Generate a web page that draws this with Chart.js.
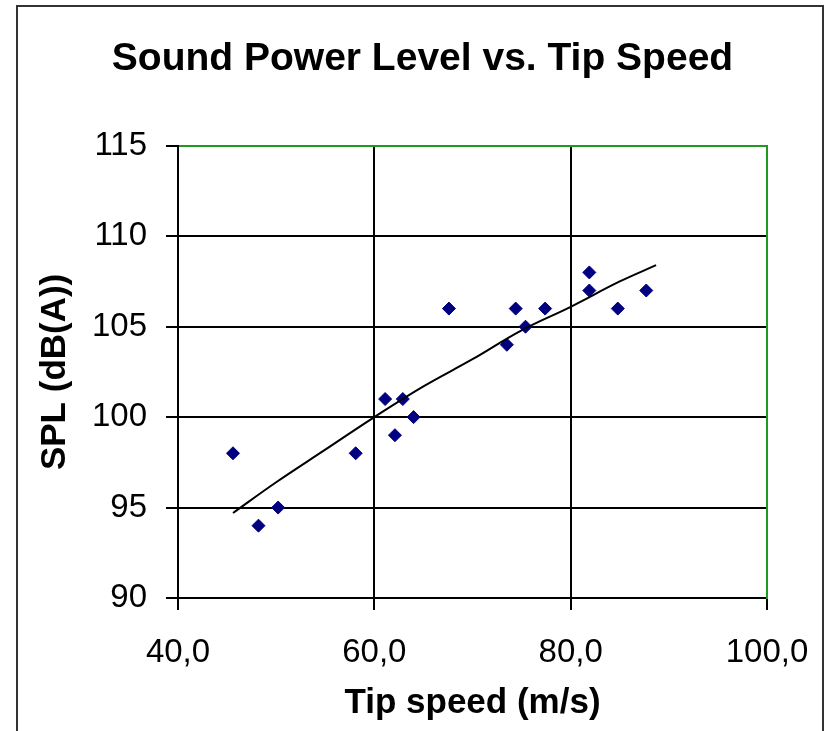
<!DOCTYPE html>
<html>
<head>
<meta charset="utf-8">
<script src="https://cdn.jsdelivr.net/npm/chart.js@4"></script>
<style>
  html, body { margin: 0; padding: 0; background: #fff; }
  #wrap { width: 829px; height: 731px; }
</style>
</head>
<body>
<div id="wrap"><canvas id="chart" width="829" height="731"></canvas></div>
<script>
// measured points
const tipSpeed = [45.6, 48.2, 50.2, 58.1, 61.1, 62.9, 62.1, 64.0, 67.6, 73.5, 74.4, 75.4, 77.4, 81.9, 81.9, 84.8, 87.7];
const splLevel = [98, 94, 95, 98, 101, 101, 99, 100, 106, 104, 106, 105, 106, 108, 107, 106, 107];

// trendline
const trendX = [45.6, 50, 55, 60, 65, 70, 75, 80, 85, 88.7];
const trendY = [94.7, 96.4, 98.2, 100, 101.7, 103.2, 104.8, 106.1, 107.5, 108.4];

const xTicks = [40, 60, 80, 100];
const xTickLabels = ['40,0', '60,0', '80,0', '100,0'];
const yTicks = [90, 95, 100, 105, 110, 115];

const FONT = "'Liberation Sans', Arial, sans-serif";
const GREEN = '#1f9a1f';

const framePlugin = {
  id: 'frame',
  beforeDraw(chart) {
    const ctx = chart.ctx;
    ctx.save();
    ctx.fillStyle = '#fff';
    ctx.fillRect(0, 0, chart.width, chart.height);
    ctx.strokeStyle = '#333';
    ctx.lineWidth = 2;
    ctx.beginPath();
    ctx.moveTo(17, chart.height);
    ctx.lineTo(17, 6);
    ctx.lineTo(823, 6);
    ctx.lineTo(823, chart.height);
    ctx.stroke();
    ctx.restore();
  }
};

new Chart(document.getElementById('chart'), {
  type: 'scatter',
  data: {
    datasets: [{
      type: 'line',
      data: trendX.map((x, i) => ({x, y: trendY[i]})),
      borderColor: '#000',
      borderWidth: 2,
      pointRadius: 0,
      tension: 0.4,
      fill: false,
      order: 0
    }, {
      type: 'scatter',
      data: tipSpeed.map((x, i) => ({x, y: splLevel[i]})),
      pointStyle: 'rectRot',
      pointRadius: 6.5,
      backgroundColor: '#000080',
      borderColor: '#000080',
      borderWidth: 1,
      order: 1
    }]
  },
  options: {
    responsive: false,
    animation: false,
    devicePixelRatio: 1,
    layout: { padding: { left: 16, right: 0, top: 0, bottom: 0 } },
    plugins: {
      legend: { display: false },
      tooltip: { enabled: false },
      title: {
        display: true,
        text: 'Sound Power Level vs. Tip Speed',
        color: '#000',
        font: { family: FONT, size: 39, weight: 'bold' },
        padding: { top: 36, bottom: 63 }
      }
    },
    scales: {
      x: {
        type: 'linear',
        position: 'bottom',
        min: 40,
        max: 100,
        afterBuildTicks: s => { s.ticks = xTicks.map(v => ({value: v})); },
        afterFit: s => { s.height = 133; s.paddingRight = 0; s.paddingLeft = 0; },
        grid: {
          color: c => (c.tick && c.tick.value === 100 ? GREEN : '#000'),
          lineWidth: 2,
          tickLength: 12,
          tickColor: '#000',
          tickWidth: 2
        },
        border: { color: '#000', width: 2 },
        ticks: {
          color: '#000',
          font: { family: FONT, size: 33 },
          padding: 23,
          maxRotation: 0,
          callback: v => xTickLabels[xTicks.indexOf(v)]
        },
        title: {
          display: true,
          text: 'Tip speed (m/s)',
          color: '#000',
          font: { family: FONT, size: 35, weight: 'bold' },
          padding: { top: 0, bottom: 7 }
        }
      },
      y: {
        position: 'left',
        min: 90,
        max: 115,
        afterBuildTicks: s => { s.ticks = yTicks.map(v => ({value: v})); },
        afterFit: s => { s.width = 162; },
        grid: {
          color: c => (c.tick && c.tick.value === 115 ? GREEN : '#000'),
          lineWidth: 2,
          tickLength: 12,
          tickColor: '#000',
          tickWidth: 2
        },
        border: { color: '#000', width: 2 },
        ticks: {
          color: '#000',
          font: { family: FONT, size: 33 },
          padding: 19
        },
        title: {
          display: true,
          text: 'SPL (dB(A))',
          color: '#000',
          font: { family: FONT, size: 35, weight: 'bold' },
          padding: { top: 18, bottom: 0 }
        }
      },
      y2: {
        position: 'right',
        min: 90,
        max: 115,
        afterFit: s => { s.width = 62; },
        grid: { display: false },
        ticks: { display: false },
        border: { color: GREEN, width: 2 }
      }
    }
  },
  plugins: [framePlugin]
});
</script>
</body>
</html>
